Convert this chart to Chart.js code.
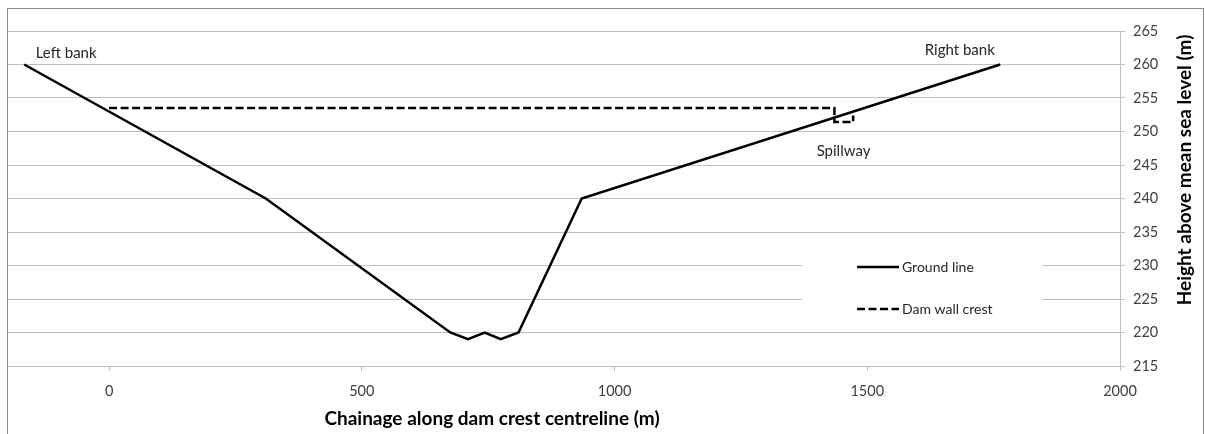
<!DOCTYPE html>
<html>
<head>
<meta charset="utf-8">
<script src="https://cdn.jsdelivr.net/npm/chart.js@4"></script>
<style>
  html, body { margin: 0; padding: 0; background: #fff; }
  #wrap { width: 1205px; height: 434px; position: relative; }
</style>
</head>
<body>
<div id="wrap"><canvas id="damChart" width="1205" height="434"></canvas></div>
<script>
const groundX = [-168, 310, 675, 710, 743, 775, 810, 935, 1763];
const groundY = [260, 240, 220, 219, 220, 219, 220, 240, 260];

const crestX = [0, 1435, 1435, 1472, 1472];
const crestY = [253.5, 253.5, 251.4, 251.4, 252.4];

const xTickValues = [0, 500, 1000, 1500, 2000];

const seriesNames = ['Ground line', 'Dam wall crest'];

const noteText = ['Left bank', 'Right bank', 'Spillway'];
const noteX = [-85, 1683, 1453];
const noteY = [261.7, 262.2, 247.1];

const xTitle = 'Chainage along dam crest centreline (m)';
const yTitle = 'Height above mean sea level (m)';

const FONT = 'Lato, "Open Sans", sans-serif';
const GRID = '#bfbfbf';

// ---- extra drawing: frame, notes, titles, legend ----
const sectionPlugin = {
  id: 'sectionPlugin',
  afterDraw(chart) {
    const { ctx, scales: { x, y } } = chart;
    ctx.save();

    // outer frame
    ctx.strokeStyle = '#8c8c8c';
    ctx.lineWidth = 1;
    ctx.strokeRect(7.5, 8.5, 1196, 440);

    // notes on the section
    ctx.font = '15px ' + FONT;
    ctx.fillStyle = '#262626';
    ctx.textAlign = 'center';
    ctx.textBaseline = 'middle';
    noteText.forEach((t, i) => {
      ctx.fillText(t, x.getPixelForValue(noteX[i]), y.getPixelForValue(noteY[i]));
    });

    // axis titles
    ctx.font = 'bold 19px ' + FONT;
    ctx.fillStyle = '#000';
    ctx.fillText(xTitle, 492, 419);
    ctx.save();
    ctx.translate(1185, 170);
    ctx.rotate(-Math.PI / 2);
    ctx.fillText(yTitle, 0, 0);
    ctx.restore();

    // legend box inside the plot
    ctx.fillStyle = '#fff';
    ctx.fillRect(802, 246, 240, 76);
    const rows = [267, 309];
    ctx.font = '14px ' + FONT;
    ctx.textAlign = 'left';
    chart.data.datasets.forEach((ds, i) => {
      ctx.strokeStyle = ds.borderColor;
      ctx.lineWidth = ds.borderWidth;
      ctx.setLineDash(ds.borderDash || []);
      ctx.beginPath();
      ctx.moveTo(857, rows[i]);
      ctx.lineTo(899, rows[i]);
      ctx.stroke();
      ctx.setLineDash([]);
      ctx.fillStyle = '#262626';
      ctx.fillText(ds.label, 902, rows[i]);
    });

    ctx.restore();
  }
};

const toPoints = (xs, ys) => xs.map((v, i) => ({ x: v, y: ys[i] }));

new Chart(document.getElementById('damChart'), {
  type: 'scatter',
  data: {
    datasets: [
      {
        label: seriesNames[0],
        data: toPoints(groundX, groundY),
        showLine: true,
        borderColor: '#000',
        borderWidth: 2.5,
        pointRadius: 0,
        tension: 0
      },
      {
        label: seriesNames[1],
        data: toPoints(crestX, crestY),
        showLine: true,
        borderColor: '#000',
        borderWidth: 2.5,
        borderDash: [8, 3.5],
        pointRadius: 0,
        tension: 0
      }
    ]
  },
  options: {
    responsive: false,
    animation: false,
    devicePixelRatio: 1,
    layout: { padding: { left: 8, top: 31, right: 0, bottom: 0 } },
    scales: {
      x: {
        type: 'linear',
        min: -200,
        max: 2000,
        afterBuildTicks: scale => { scale.ticks = xTickValues.map(v => ({ value: v })); },
        afterFit: scale => { scale.height = 68; },
        grid: { drawOnChartArea: false, drawTicks: true, tickLength: 5, color: GRID },
        border: { color: GRID },
        ticks: {
          color: '#404040', font: { family: FONT, size: 14.5 }, padding: 12, maxRotation: 0,
          callback: v => String(v)
        }
      },
      y: {
        position: 'right',
        min: 215,
        max: 265,
        afterFit: scale => { scale.width = 85; },
        grid: { color: GRID, tickLength: 5 },
        border: { color: GRID },
        ticks: {
          stepSize: 5, color: '#404040', font: { family: FONT, size: 14.5 }, padding: 8,
          callback: v => String(v)
        }
      }
    },
    plugins: {
      legend: { display: false },
      tooltip: { enabled: false }
    }
  },
  plugins: [sectionPlugin]
});
</script>
</body>
</html>
